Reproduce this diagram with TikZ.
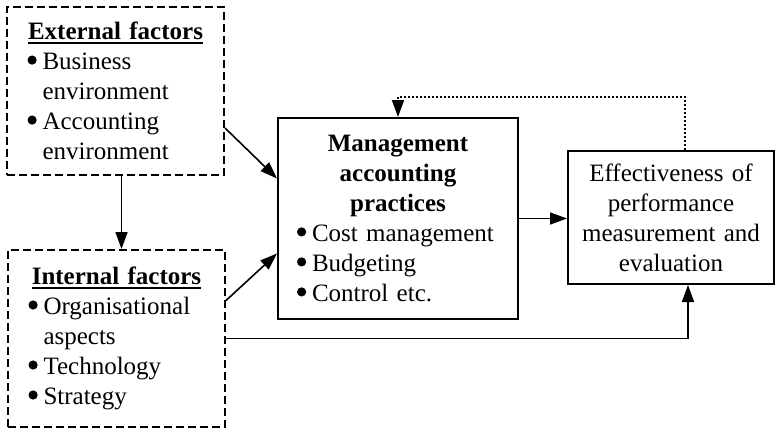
\documentclass[tikz,border=0pt]{standalone}
\usepackage{fontspec}
\setmainfont{Liberation Serif}
\usetikzlibrary{positioning,arrows.meta}
\setlength{\parindent}{0pt}

% round bullet drawn as a filled dot, then the gap to the text
\newcommand{\bulmark}{\makebox[7.5pt][l]{\pgfpicture\pgfsetbaseline{0pt}%
  \pgfpathcircle{\pgfpoint{2.2pt}{4.8pt}}{2.3pt}\pgfusepath{fill}\endpgfpicture}}
\newcommand{\bul}[1]{\bulmark#1}
\newcommand{\contline}{\hspace{7.5pt}}
\newcommand{\uhead}[1]{\setbox0\hbox{\textbf{#1}}\rlap{\rule[-2.2pt]{\wd0}{1pt}}\box0}

\begin{document}
\begin{tikzpicture}[x=0.5pt,y=-0.5pt,->,>={Triangle[length=8.5pt,width=6pt]},
                    line width=0.8pt,font=\fontsize{12.5pt}{15pt}\selectfont]
  \tikzstyle{factor}=[draw,line width=1pt,dash pattern=on 4pt off 2pt,
                      minimum width=108.5pt,text width=88pt,align=left,inner sep=0pt]
  \tikzstyle{block}=[draw,line width=1pt,inner sep=0pt]
  \tikzstyle{feedback}=[line width=1pt,dash pattern=on 1pt off 1pt]

  \useasboundingbox (0,0) rectangle (777,428);

  \node[factor,minimum height=84pt]   (ext) at (115.5,91)
    {{\centering\uhead{External factors}\par}
     \bul{Business}\\ \contline environment\\
     \bul{Accounting}\\ \contline environment};
  \node[factor,minimum height=88.5pt] (int) at (116.5,338.5)
    {{\centering\uhead{Internal factors}\par}
     \bul{Organisational}\\ \contline aspects\\
     \bul{Technology}\\ \bul{Strategy}};
  \node[block,minimum width=120pt,minimum height=100.5pt,
        text width=101pt,align=left] (mgmt) at (398,218.5)
    {{\centering\textbf{Management\\ accounting\\ practices}\par}
     \bul{Cost management}\\ \bul{Budgeting}\\ \bul{Control etc.}};
  \node[block,minimum width=103pt,minimum height=66.5pt,
        text width=95pt,align=center] (eff) at (671,217.5)
    {Effectiveness of\\ performance\\ measurement and\\ evaluation};

  \coordinate (loop) at (398,97);

  \draw ([yshift=-18.5pt]ext.east) -- ([yshift=20pt]mgmt.west);
  \draw ([yshift=19pt]int.east) -- ([yshift=-17.5pt]mgmt.west);
  \draw ([xshift=3pt]ext.south) -- ([xshift=3pt]ext.south |- int.north);
  \draw (mgmt.east) -- (mgmt.east -| eff.west);
  \draw (int.east) -| ([xshift=8.5pt]eff.south);
  \draw[feedback] ([xshift=7pt]eff.north) |- (loop) -- (mgmt.north);
\end{tikzpicture}
\end{document}
